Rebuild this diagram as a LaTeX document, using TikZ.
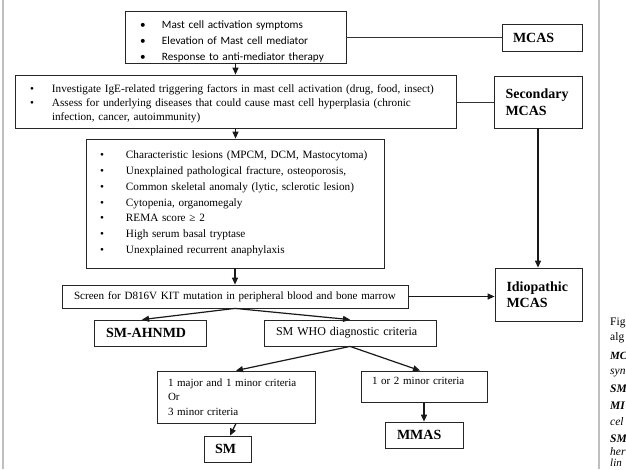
\documentclass[tikz,border=0pt]{standalone}
\usepackage{fontspec}
\setmainfont{Liberation Serif}
\newfontfamily\calibri{Carlito}
\usetikzlibrary{arrows.meta}
\newcommand\bitem[2]{\makebox[#1][l]{\textbullet}#2}
\newcommand\shiftdown[2]{\raisebox{-#1}[\height][\depth]{#2}}
\begin{document}
\begin{tikzpicture}[x=1pt,y=-1pt,
  box/.style={draw=black!85, line width=0.8pt, rectangle, inner ysep=0pt, align=left},
  bold/.style={box, font=\fontsize{14}{16.5}\selectfont\bfseries},
  arr/.style={draw=black!90, line width=1.2pt, -{Triangle[length=7pt,width=6pt]}},
  lin/.style={draw=black!80, line width=0.9pt},
  frame/.style={draw=black!25, line width=1.5pt},
  captxt/.style={anchor=west, inner sep=0pt, font=\fontsize{11.5}{14}\selectfont}
]
\useasboundingbox (0,0) rectangle (626,469);
\fill[white] (0,0) rectangle (626,469);
\draw[frame] (3,0) -- (3,469);
\draw[frame] (599,0) -- (599,469);

% boxes
\node[box, text width=191pt, inner xsep=15pt, minimum height=52pt,
  font=\calibri\fontsize{11.2}{16}\selectfont] (b1) at (235.5,37)
  {\shiftdown{5pt}{\parbox{191pt}{\raggedright
   \bitem{22pt}{Mast cell activation symptoms}\\
   \bitem{22pt}{Elevation of Mast cell mediator}\\
   \bitem{22pt}{Response to anti-mediator therapy}}}};
\node[bold, text width=58pt, inner xsep=11pt, minimum height=27pt] (mcas) at (542,37.5) {MCAS};

\node[box, text width=411pt, inner xsep=15pt, minimum height=53pt,
  font=\fontsize{11.2}{14}\selectfont] (b2) at (235.5,101.5)
  {\shiftdown{2pt}{\parbox{411pt}{\raggedright
   \bitem{22pt}{Investigate IgE-related triggering factors in mast cell activation (drug, food, insect)}\\
   \bitem{22pt}{Assess for underlying diseases that could cause mast cell hyperplasia (chronic}\\
   \hspace*{22pt}infection, cancer, autoimmunity)}}};
\node[bold, text width=65pt, inner xsep=11.5pt, minimum height=52pt] (sec) at (538,102) {Secondary\\MCAS};

\node[box, text width=270pt, inner xsep=14pt, minimum height=129pt,
  font=\fontsize{11.2}{15.8}\selectfont] (b3) at (235,203.5)
  {\bitem{26pt}{Characteristic lesions (MPCM, DCM, Mastocytoma)}\\
   \bitem{26pt}{Unexplained pathological fracture, osteoporosis,}\\
   \bitem{26pt}{Common skeletal anomaly (lytic, sclerotic lesion)}\\
   \bitem{26pt}{Cytopenia, organomegaly}\\
   \bitem{26pt}{REMA score ≥ 2}\\
   \bitem{26pt}{High serum basal tryptase}\\
   \bitem{26pt}{Unexplained recurrent anaphylaxis}\\[4pt]};

\node[bold, text width=64pt, inner xsep=11.5pt, minimum height=53pt] (idio) at (538.5,294.5) {Idiopathic\\MCAS};

\node[box, text width=322pt, inner xsep=12pt, minimum height=23pt,
  font=\fontsize{11.1}{13}\selectfont] (screen) at (235,296.5)
  {\mbox{Screen for D816V KIT mutation in peripheral blood and bone marrow}};

\node[bold, text width=88pt, inner xsep=12pt, minimum height=26pt] (ahnmd) at (150,333) {SM-AHNMD};
\node[box, text width=148pt, inner xsep=12pt, minimum height=26pt,
  font=\fontsize{12}{14}\selectfont] (who) at (350,333) {SM WHO diagnostic criteria};

\node[box, text width=136pt, inner xsep=11pt, minimum height=52pt,
  font=\fontsize{11}{14.5}\selectfont] (major) at (236,397)
  {1 major and 1 minor criteria\\Or\\3 minor criteria};
\node[box, text width=104pt, inner xsep=11pt, minimum height=31pt,
  font=\fontsize{11}{14.5}\selectfont] (two) at (424,386.5)
  {1 or 2 minor criteria\\[-4pt]\mbox{}};

\node[bold, text width=54pt, inner xsep=12pt, minimum height=26pt] (mmas) at (424,435) {MMAS};
\node[bold, text width=25pt, inner xsep=11pt, minimum height=26pt] (sm) at (227.5,449) {SM};

% connectors
\draw[lin] (b1.east |- mcas.west) -- (mcas.west);
\draw[lin] (b2.east |- sec.west) -- (sec.west);
\draw[arr] (b1.south) -- (b1.south |- b2.north);
\draw[arr] (b2.south) -- (b2.south |- b3.north);
\draw[arr] (b3.south) -- (b3.south |- screen.north);
\draw[arr] (sec.south) -- (sec.south |- idio.north);
\draw[arr] (screen.east) -- (screen.east -| idio.west);
\draw[arr] (screen.south) -- ([xshift=-8pt]ahnmd.north);
\draw[arr] (screen.south) -- (who.north);
\draw[arr] (who.south) -- (major.north);
\draw[arr] (who.south) -- ([xshift=-4pt]two.north);
\draw[arr] (two.south) -- (mmas.north);
\draw[arr] (major.south) -- ([xshift=2.5pt]sm.north);

% cut-off caption fragments at the right edge
\node[captxt] (c1) at (610,323) {Fig};
\node[captxt] (c2) at (610,338) {alg};
\node[captxt, font=\fontsize{11}{14}\selectfont\bfseries\itshape] (c3) at (610,356) {MC};
\node[captxt, font=\fontsize{11.5}{14}\selectfont\itshape] (c4) at (610,373) {syn};
\node[captxt, font=\fontsize{11.5}{14}\selectfont\bfseries\itshape] (c5) at (610,389) {SM};
\node[captxt, font=\fontsize{11.5}{14}\selectfont\bfseries\itshape] (c6) at (610,406) {MI};
\node[captxt, font=\fontsize{11.5}{14}\selectfont\itshape] (c7) at (610,422) {cel};
\node[captxt, font=\fontsize{11.5}{14}\selectfont\bfseries\itshape] (c8) at (610,439) {SM};
\node[captxt, font=\fontsize{11.5}{14}\selectfont\itshape] (c9) at (610,452) {her};
\node[captxt, font=\fontsize{11}{14}\selectfont\itshape] (c10) at (610,463) {lin};
\end{tikzpicture}
\end{document}
